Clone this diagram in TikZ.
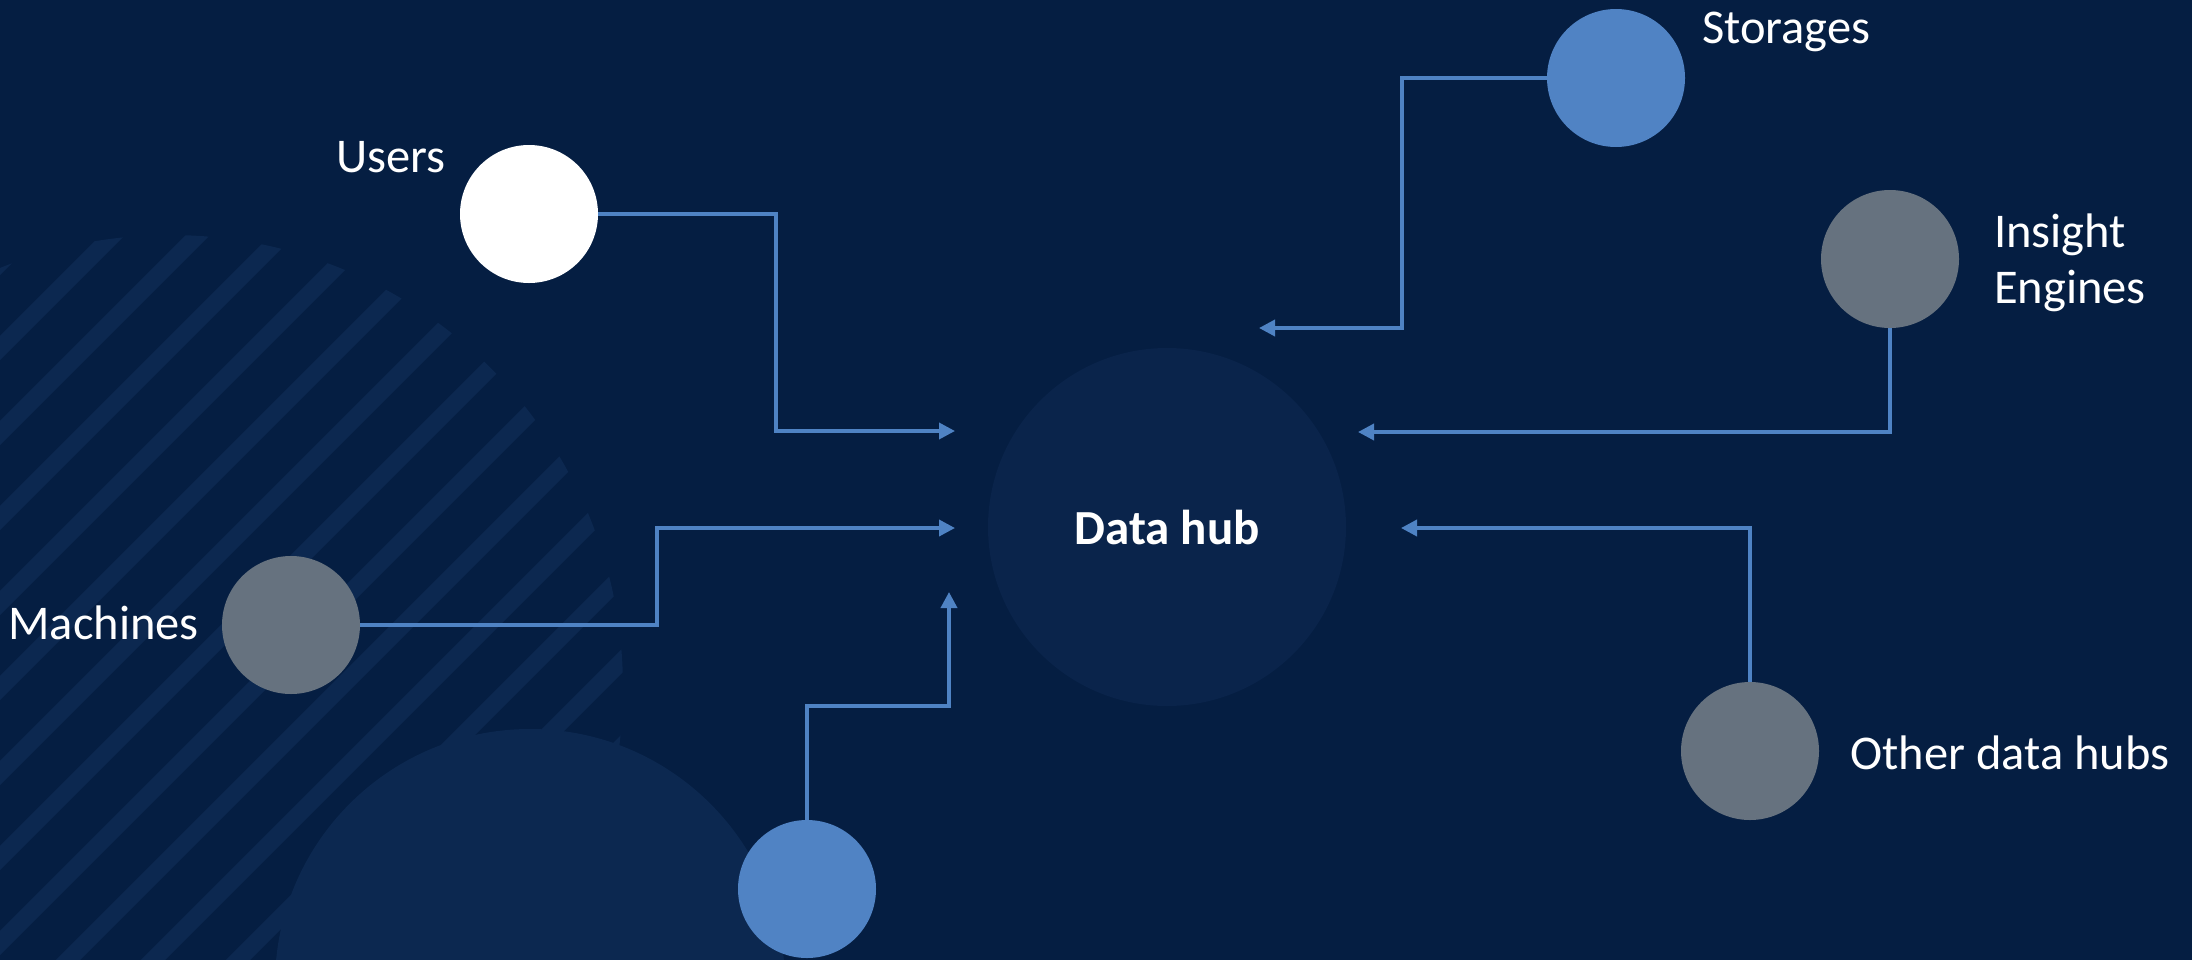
\documentclass[tikz,border=0pt]{standalone}
\usepackage{fontspec}
\setmainfont{Carlito}
\usetikzlibrary{arrows.meta}
\definecolor{bg}{RGB}{5,30,66}
\definecolor{deco}{RGB}{12,40,80}
\definecolor{hubfill}{RGB}{10,36,75}
\definecolor{lineblue}{RGB}{79,131,196}
\definecolor{dotblue}{RGB}{80,131,196}
\definecolor{dotgray}{RGB}{102,114,127}
\begin{document}
\begin{tikzpicture}[x=1pt,y=-1pt,
  dot/.style={circle, minimum size=138pt, inner sep=0pt, draw=none},
  conn/.style={draw=lineblue, line width=3.6pt},
  arr/.style={conn, -{Triangle[length=16pt,width=16pt]}},
  lbl/.style={text=white, font=\fontsize{48.5}{56}\selectfont, inner sep=0pt},
  stripe/.style={draw=deco, line width=17pt}]
\useasboundingbox (0,0) rectangle (2192,959);
\fill[bg] (-10,-10) rectangle (2202,975);
% decorative stripes
\begin{scope}
  \clip (170,688) circle [radius=453pt];
  \foreach \c in {263,348,...,1460}
    \draw[stripe] (\c+300,-300) -- (\c-1400,1400);
\end{scope}
% decorative big circle
\fill[deco] (530,984) circle [radius=255pt];
% hub
\node[circle, fill=hubfill, minimum size=358pt, inner sep=0pt, text=white,
      font=\fontsize{49}{56}\selectfont\bfseries] (hub) at (1167,527) {Data hub};
% satellite circles
\node[dot, fill=white]   (users)    at (529,214) {};
\node[dot, fill=dotgray] (machines) at (291,625) {};
\node[dot, fill=dotblue] (bblue)    at (807,889) {};
\node[dot, fill=dotblue] (storages) at (1616,78) {};
\node[dot, fill=dotgray] (insight)  at (1890,259) {};
\node[dot, fill=dotgray] (other)    at (1750,751) {};
% labels
\node[lbl, anchor=base east] (lusers) at (446,172) {Users};
\node[lbl, anchor=base east] (lmach) at (199,639) {Machines};
\node[lbl, anchor=base west] (lstor) at (1702,43) {Storages};
\node[lbl, anchor=base west, align=left] (lins) at (1994,303) {Insight\\Engines};
\node[lbl, anchor=base west] (loth) at (1850,769) {Other data hubs};
% arrow tips
\coordinate (uTip) at (955,431);
\coordinate (mTip) at (955,528);
\coordinate (bTip) at (949,592);
\coordinate (sTip) at (1259,328);
\coordinate (iTip) at (1358,432);
\coordinate (oTip) at (1401,528);
% connectors
\draw[arr] (users.east) -| (776,431) -- (uTip);
\draw[arr] (machines.east) -| (657,528) -- (mTip);
\draw[arr] (bblue.north) |- (949,706) -- (bTip);
\draw[arr] (storages.west) -| (1402,328) -- (sTip);
\draw[arr] (insight.south) |- (iTip);
\draw[arr] (other.north) |- (oTip);
\end{tikzpicture}
\end{document}
